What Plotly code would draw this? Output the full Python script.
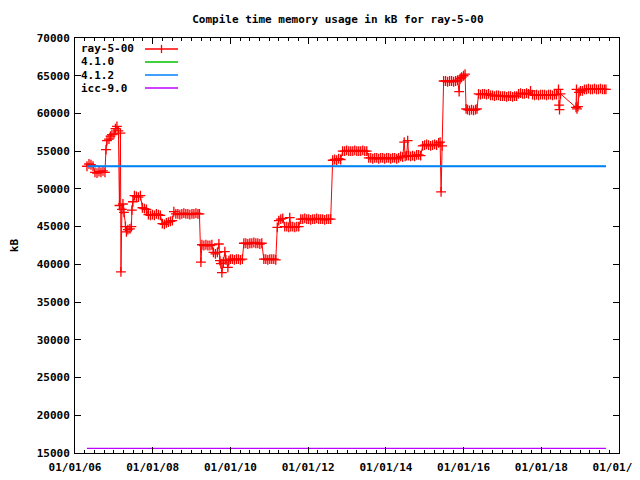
import pandas as pd
import plotly.graph_objects as go

# nightly builds of ray-5-00 (decimal year, kB)
ray_year = [
    2006.308, 2006.360, 2006.411, 2006.463,
    2006.514, 2006.566, 2006.617, 2006.668, 2006.720, 2006.771,
    2006.797, 2006.823, 2006.874, 2006.913, 2006.951, 2007.003, 2007.041, 2007.080,
    2007.118, 2007.144, 2007.170, 2007.183, 2007.208, 2007.234, 2007.260,
    2007.298, 2007.324, 2007.362, 2007.414, 2007.452, 2007.465, 2007.491,
    2007.530, 2007.581, 2007.632, 2007.684,
    2007.735, 2007.787, 2007.838,
    2007.889, 2007.941, 2007.992, 2008.044, 2008.095, 2008.147, 2008.198,
    2008.249, 2008.301, 2008.352,
    2008.404, 2008.455, 2008.506,
    2008.545, 2008.596, 2008.648, 2008.699, 2008.751, 2008.802, 2008.853, 2008.905,
    2008.956, 2009.008, 2009.059, 2009.111, 2009.162, 2009.201,
    2009.239, 2009.265, 2009.316, 2009.368, 2009.419, 2009.471, 2009.522,
    2009.561, 2009.612, 2009.663,
    2009.702, 2009.728, 2009.753, 2009.779, 2009.817, 2009.856, 2009.882, 2009.933, 2009.959, 2009.997,
    2010.049, 2010.100, 2010.152, 2010.203, 2010.255, 2010.306,
    2010.345, 2010.396, 2010.447, 2010.499, 2010.550, 2010.602, 2010.653, 2010.704, 2010.756, 2010.807,
    2010.859, 2010.910, 2010.961, 2011.013, 2011.064, 2011.116, 2011.167,
    2011.206, 2011.244, 2011.296, 2011.347,
    2011.398, 2011.450, 2011.501, 2011.527, 2011.553, 2011.604, 2011.656, 2011.707, 2011.758,
    2011.810, 2011.861, 2011.913, 2011.964, 2012.015, 2012.067, 2012.118, 2012.170,
    2012.221, 2012.273, 2012.324, 2012.375, 2012.427, 2012.478, 2012.530, 2012.581,
    2012.632, 2012.684, 2012.735, 2012.787, 2012.838,
    2012.889, 2012.941, 2012.992, 2013.044, 2013.095, 2013.147, 2013.198, 2013.250,
    2013.301, 2013.352, 2013.404, 2013.455, 2013.507,
    2013.558, 2013.610, 2013.661, 2013.712, 2013.764, 2013.815, 2013.866, 2013.918,
    2013.969, 2014.021, 2014.072, 2014.124, 2014.175, 2014.226, 2014.278, 2014.329,
    2014.381, 2014.432, 2014.471, 2014.496, 2014.535, 2014.561, 2014.586,
    2014.638, 2014.689, 2014.740, 2014.792, 2014.843, 2014.895,
    2014.946, 2014.997, 2015.049, 2015.100, 2015.152, 2015.203, 2015.254, 2015.306, 2015.357, 2015.396,
    2015.421, 2015.447, 2015.486,
    2015.537, 2015.589, 2015.640, 2015.692, 2015.743, 2015.794, 2015.846,
    2015.885, 2015.910, 2015.949, 2016.000, 2016.039,
    2016.065, 2016.103, 2016.154, 2016.206, 2016.257, 2016.309, 2016.347,
    2016.386, 2016.437, 2016.489, 2016.540, 2016.591, 2016.643, 2016.694, 2016.746,
    2016.797, 2016.849, 2016.900, 2016.951, 2017.003, 2017.054, 2017.106, 2017.157,
    2017.208, 2017.260, 2017.311, 2017.363, 2017.414, 2017.465, 2017.517, 2017.568,
    2017.620, 2017.671, 2017.722, 2017.774, 2017.825, 2017.877, 2017.928, 2017.979,
    2018.031, 2018.082, 2018.133, 2018.185, 2018.236, 2018.288, 2018.339, 2018.390,
    2018.442, 2018.455, 2018.468, 2018.494,
    2018.892, 2018.905, 2018.918, 2018.943, 2018.969, 2019.008, 2019.059, 2019.111,
    2019.162, 2019.213, 2019.265, 2019.316, 2019.368, 2019.419, 2019.471, 2019.522,
    2019.573, 2019.625, 2019.663,
]
ray_kb = [
    53000, 53300, 53200, 53000,
    52200, 52100, 52300, 52200, 52400, 52200,
    55200, 56400, 56600, 57000, 57200, 57300, 58000, 58300,
    57700, 47800, 57400, 39000, 47300, 48000, 46900,
    45000, 44300, 44600, 44700, 45000, 47200, 48300,
    49100, 49000, 48900, 49100,
    47500, 47400, 47300,
    46600, 46500, 46600, 46500, 46700, 46600, 46500,
    45400, 45300, 45500,
    45600, 45700, 45800,
    47000, 46700, 46700, 46600, 46700, 46800, 46700, 46700,
    46600, 46700, 46700, 46800, 46700, 46700,
    40300, 42600, 42500, 42600, 42500, 42500, 42600,
    41600, 41400, 41600,
    42700, 40500, 40100, 38900, 40300, 41700, 40600, 39600, 40500, 40700,
    40700, 40600, 40700, 40700, 40600, 40700,
    42800, 42800, 42700, 42800, 42800, 42900, 42800, 42800, 42700, 42800,
    40700, 40700, 40600, 40700, 40700, 40700, 40600,
    44900, 45800, 46000, 46100,
    45000, 45000, 44900, 46200, 45000, 45000, 44900, 45000, 45000,
    46000, 46000, 46100, 46000, 46000, 45900, 46000, 46000,
    46100, 46000, 46000, 46000, 45900, 46000, 46000, 46000,
    53800, 53900, 53800, 54000, 53900,
    55000, 55000, 55100, 55000, 55000, 55000, 55100, 55000,
    55000, 55000, 55100, 55000, 55000,
    54100, 54100, 54000, 54100, 54100, 54000, 54100, 54100,
    54000, 54100, 54100, 54000, 54100, 54100, 54000, 54100,
    54300, 54200, 56200, 54300, 54400, 56400, 54400,
    54300, 54400, 54300, 54500, 54500, 54400,
    55700, 55800, 55900, 55800, 55700, 55800, 55900, 55800, 56100, 56200,
    49600, 55700, 64300,
    64300, 64200, 64300, 64300, 64200, 64300, 64400,
    62900, 64600, 64800, 65000, 65200,
    60600, 60500, 60400, 60500, 60400, 60500, 60600,
    62600, 62500, 62600, 62600, 62500, 62600, 62400, 62400,
    62300, 62400, 62400, 62300, 62300, 62300, 62200, 62300,
    62300, 62200, 62300, 62300, 62600, 62700, 62600, 62600,
    62700, 62600, 63000, 62500, 62400, 62500, 62400, 62500,
    62500, 62500, 62400, 62500, 62500, 62400, 62500, 62500,
    63200, 61100, 60500, 62600,
    60800, 63200, 60600, 60900, 62800, 63000, 63000, 63200,
    63200, 63300, 63200, 63200, 63300, 63200, 63200, 63300,
    63200, 63200, 63200,
]
assert len(ray_year) == len(ray_kb)

# flat reference compilers
ref_year = [2006.308, 2019.663]
gcc410_kb = [53000, 53000]
gcc412_kb = [53000, 53000]
icc90_kb = [15600, 15600]

RED = "#ff0000"
GREEN = "#00c000"
BLUE = "#0080ff"
MAGENTA = "#c000ff"
FONT = dict(family="DejaVu Sans Mono", size=11, color="black", weight="bold")


def to_date(y):
    yr = int(y)
    return pd.Timestamp(year=yr, month=1, day=1) + pd.Timedelta(days=(y - yr) * 365.25)


ray_x = [to_date(y) for y in ray_year]
ref_x = [to_date(y) for y in ref_year]

fig = go.Figure()
fig.add_trace(go.Scatter(x=ray_x, y=ray_kb, mode="lines+markers", name="ray-5-00",
                         line=dict(color=RED, width=1),
                         marker=dict(symbol="cross-thin", size=7, line=dict(color=RED, width=1.3))))
fig.add_trace(go.Scatter(x=ref_x, y=gcc410_kb, mode="lines", name="4.1.0",
                         line=dict(color=GREEN, width=1)))
fig.add_trace(go.Scatter(x=ref_x, y=gcc412_kb, mode="lines", name="4.1.2",
                         line=dict(color=BLUE, width=1.8)))
fig.add_trace(go.Scatter(x=ref_x, y=icc90_kb, mode="lines", name="icc-9.0",
                         line=dict(color=MAGENTA, width=1.2)))

# gnuplot-style key: label on the left, sample line on the right
key_names = ["ray-5-00", "4.1.0", "4.1.2", "icc-9.0"]
key_colors = [RED, GREEN, BLUE, MAGENTA]
key_y = [0.9735, 0.9422, 0.9108, 0.8795]
for name, col, ky in zip(key_names, key_colors, key_y):
    fig.add_annotation(x=0.007, y=ky, xref="paper", yref="paper", text=name,
                       showarrow=False, xanchor="left", yanchor="middle", font=FONT)
    fig.add_shape(type="line", xref="paper", yref="paper",
                  x0=0.1287, x1=0.1893, y0=ky, y1=ky, line=dict(color=col, width=1.3))
fig.add_shape(type="line", xref="paper", yref="paper",
              x0=0.159, x1=0.159, y0=key_y[0] - 0.01, y1=key_y[0] + 0.01,
              line=dict(color=RED, width=1.3))

# page body keeps its default 8px margin, so the figure is 8px smaller than the window
fig.update_layout(
    width=632, height=472,
    margin=dict(l=67, r=21, t=30, b=27),
    paper_bgcolor="white", plot_bgcolor="white",
    showlegend=False,
    font=FONT,
    title=dict(text="Compile time memory usage in kB for ray-5-00", x=0.522, xref="container",
               xanchor="center", y=0.977, yref="container", yanchor="middle", font=FONT),
)
fig.update_xaxes(
    type="date", range=["2006-01-01", "2020-01-01"], dtick="M24", tick0="2006-01-01",
    tickformat="%m/%d/%y", ticks="inside", ticklen=6, tickcolor="black",
    showline=True, linecolor="black", linewidth=1, mirror="ticks", showgrid=False, zeroline=False,
    ticklabeloverflow="allow", tickfont=FONT, automargin=False, ticklabelstandoff=4,
    minor=dict(dtick="M3", ticks="inside", ticklen=3, tickcolor="black", showgrid=False),
)
fig.update_yaxes(
    range=[15000, 70000], dtick=5000, tickformat="d", ticks="inside", ticklen=6, tickcolor="black",
    showline=True, linecolor="black", linewidth=1, mirror="ticks", showgrid=False, zeroline=False,
    tickfont=FONT, automargin=False, ticklabelstandoff=2,
    title=dict(text="kB", font=FONT, standoff=16),
)

fig.write_html("out.html")
